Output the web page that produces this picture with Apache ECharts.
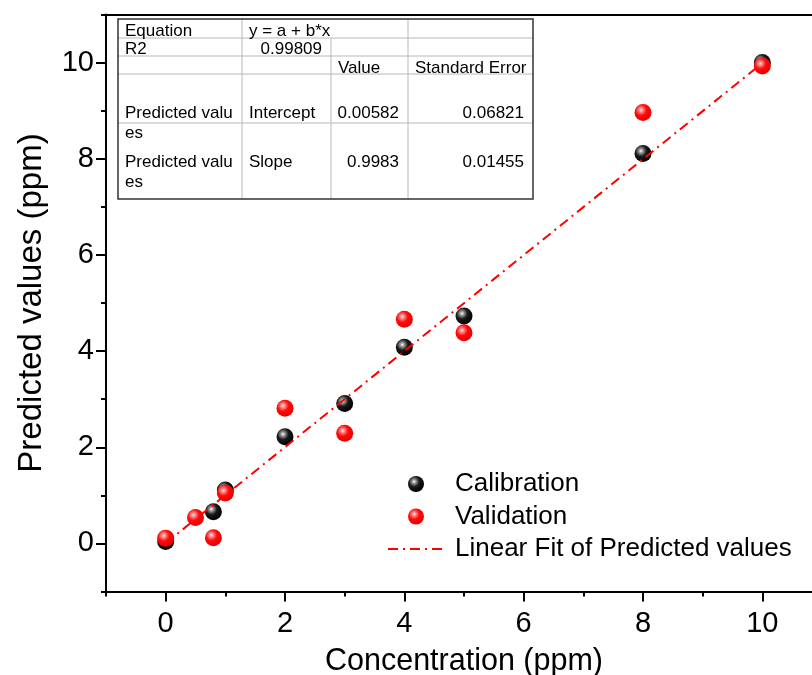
<!DOCTYPE html>
<html>
<head>
<meta charset="utf-8">
<script src="https://cdn.jsdelivr.net/npm/echarts@6/dist/echarts.min.js"></script>
<style>
html,body{margin:0;padding:0;background:#fff;}
#chart{width:812px;height:675px;}
</style>
</head>
<body>
<div id="chart"></div>
<script>
// ---- data ----
const calX = [0, 0.8, 1, 2, 3, 4, 5, 8, 10];
const calY = [0.04, 0.66, 1.11, 2.22, 2.91, 4.08, 4.73, 8.11, 10.0];
const valX = [0, 0.5, 0.8, 1, 2, 3, 4, 5, 8, 10];
const valY = [0.11, 0.54, 0.12, 1.05, 2.81, 2.29, 4.66, 4.38, 8.96, 9.93];
const fitIntercept = 0.00582;
const fitSlope = 0.9983;
const fitRangeX = [0, 10];
const majorTicks = [0, 2, 4, 6, 8, 10];
const minorTicks = [-1, 1, 3, 5, 7, 9, 11];
const seriesNames = ['Calibration', 'Validation', 'Linear Fit of Predicted values'];
const tableRows = [
  ['Equation', 'y = a + b*x', '', ''],
  ['R2', '0.99809', '', ''],
  ['', '', 'Value', 'Standard Error'],
  ['Predicted valu\nes', 'Intercept', '0.00582', '0.06821'],
  ['Predicted valu\nes', 'Slope', '0.9983', '0.01455']
];

const FONT = '"Liberation Sans", Arial, sans-serif';

function ball(base) {
  if (base === 'black') {
    return {type:'radial', x:0.38, y:0.35, r:0.65, colorStops:[
      {offset:0, color:'#ffffff'},{offset:0.18, color:'#9a9a9a'},
      {offset:0.5, color:'#1a1a1a'},{offset:1, color:'#000000'}]};
  }
  return {type:'radial', x:0.38, y:0.35, r:0.65, colorStops:[
    {offset:0, color:'#ffeaea'},{offset:0.18, color:'#ff8a8a'},
    {offset:0.5, color:'#ff0a0a'},{offset:1, color:'#e80000'}]};
}

// table graphics
const colX = [118, 242, 331, 408, 533];
const rowY = [19, 38, 56, 74, 123, 199];
const g = [];
g.push({type:'rect', shape:{x:colX[0], y:rowY[0], width:colX[4]-colX[0], height:rowY[5]-rowY[0]},
  style:{fill:'#fff', stroke:'none'}, z:10});
for (let i = 1; i < rowY.length - 1; i++) {
  g.push({type:'line', shape:{x1:colX[0], y1:rowY[i], x2:colX[4], y2:rowY[i]}, style:{stroke:'#b8b8b8', lineWidth:1}, z:11});
}
for (let j = 1; j < colX.length - 1; j++) {
  const y1 = (j === 2) ? rowY[1] : rowY[0];
  g.push({type:'line', shape:{x1:colX[j], y1:y1, x2:colX[j], y2:rowY[5]}, style:{stroke:'#b8b8b8', lineWidth:1}, z:11});
}
g.push({type:'rect', shape:{x:colX[0], y:rowY[0], width:colX[4]-colX[0], height:rowY[5]-rowY[0]},
  style:{fill:'none', stroke:'#333333', lineWidth:1.5}, z:12});
const textTops = [21, 39, 58, 103, 152];
tableRows.forEach((row, r) => {
  row.forEach((txt, c) => {
    if (!txt) return;
    let alignRight = false;
    if (r === 1 && c === 1) alignRight = true;
    if (r >= 3 && c >= 2) alignRight = true;
    g.push({type:'text', z:13,
      x: alignRight ? colX[c+1] - 9 : colX[c] + 7,
      y: textTops[r],
      style:{text:txt, fill:'#000', font:'17px ' + FONT, lineHeight:20,
        align: alignRight ? 'right' : 'left', verticalAlign:'top'}});
  });
});

const calData = calX.map((x, i) => [x, calY[i]]);
const valData = valX.map((x, i) => [x, valY[i]]);
const fitData = fitRangeX.map(x => [x, fitIntercept + fitSlope * x]);

const axisLineStyle = {color:'#000', width:2};
const option = {
  animation: false,
  backgroundColor: '#fff',
  grid: {left:106, top:14.5, right:-10, bottom:83.5, containLabel:false, outerBoundsMode:'none'},
  xAxis: [
    {type:'value', position:'bottom', min:-1, max:11, interval:1,
     name:'Concentration (ppm)', nameLocation:'middle', nameGap:55,
     nameTextStyle:{fontSize:30.5, fontFamily:FONT, color:'#000'},
     axisLine:{show:true, onZero:false, lineStyle:axisLineStyle},
     axisTick:{show:true, inside:false, length:10, lineStyle:{color:'#000', width:2}, customValues:majorTicks},
     axisLabel:{show:true, customValues:majorTicks, fontSize:29, fontFamily:FONT, color:'#000', margin:18},
     splitLine:{show:false}},
    {type:'value', position:'bottom', min:-1, max:11, interval:1,
     axisLine:{show:false, onZero:false},
     axisTick:{show:true, inside:false, length:5, lineStyle:{color:'#000', width:2}, customValues:minorTicks},
     axisLabel:{show:false}, splitLine:{show:false}},
    {type:'value', position:'top', min:-1, max:11,
     axisLine:{show:true, onZero:false, lineStyle:axisLineStyle},
     axisTick:{show:false}, axisLabel:{show:false}, splitLine:{show:false}}
  ],
  yAxis: [
    {type:'value', position:'left', min:-1, max:11, interval:1,
     name:'Predicted values (ppm)', nameLocation:'middle', nameGap:58,
     nameTextStyle:{fontSize:33, fontFamily:FONT, color:'#000'},
     axisLine:{show:true, onZero:false, lineStyle:axisLineStyle},
     axisTick:{show:true, inside:false, length:10, lineStyle:{color:'#000', width:2}, customValues:majorTicks},
     axisLabel:{show:true, customValues:majorTicks, fontSize:29, fontFamily:FONT, color:'#000', margin:12},
     splitLine:{show:false}},
    {type:'value', position:'left', min:-1, max:11, interval:1,
     axisLine:{show:false, onZero:false},
     axisTick:{show:true, inside:false, length:5, lineStyle:{color:'#000', width:2}, customValues:minorTicks},
     axisLabel:{show:false}, splitLine:{show:false}}
  ],
  legend: {
    orient:'vertical', left:387, top:471, padding:0, itemWidth:56, itemHeight:16, itemGap:6.5,
    data: [{name:seriesNames[0]}, {name:seriesNames[1]}, {name:seriesNames[2], itemStyle:{opacity:0}}],
    textStyle:{fontSize:26, fontFamily:FONT, color:'#000', padding:[0,0,0,6]}
  },
  series: [
    {name:seriesNames[0], type:'scatter', data:calData, symbol:'circle', symbolSize:17,
     xAxisIndex:0, yAxisIndex:0, z:2,
     itemStyle:{color:ball('black'), opacity:1}},
    {name:seriesNames[1], type:'scatter', data:valData, symbol:'circle', symbolSize:17,
     xAxisIndex:0, yAxisIndex:0, z:4,
     itemStyle:{color:ball('red'), opacity:1}},
    {name:seriesNames[2], type:'line', data:fitData, symbol:'none', showSymbol:false,
     xAxisIndex:0, yAxisIndex:0, z:3,
     lineStyle:{color:'#ff0000', width:2, type:[10,5,2,5]}, itemStyle:{color:'#ff0000'}}
  ],
  graphic: g
};
const chart = echarts.init(document.getElementById('chart'), null, {renderer:'canvas'});
chart.setOption(option);
</script>
</body>
</html>
